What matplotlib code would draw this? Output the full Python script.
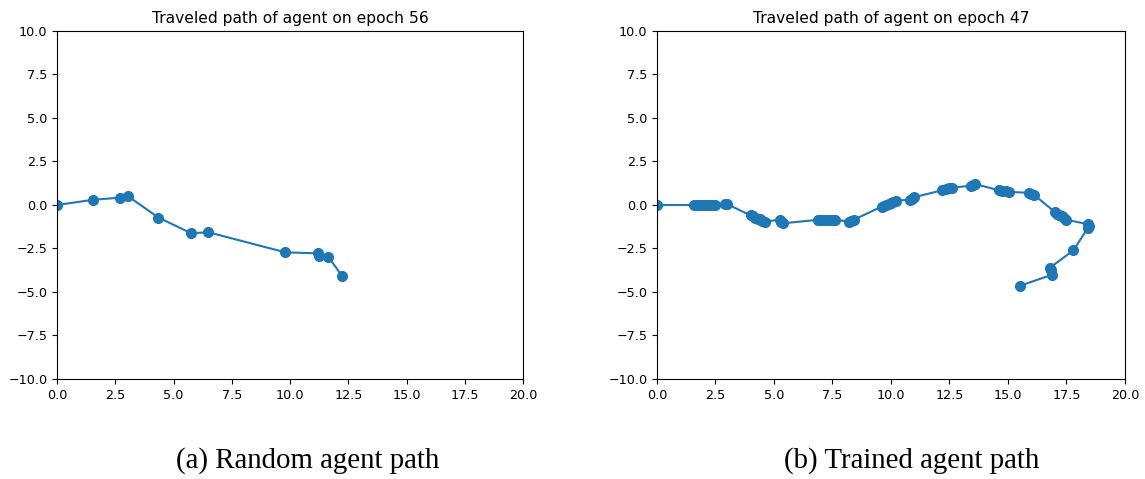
import matplotlib
matplotlib.use('Agg')
import matplotlib.pyplot as plt

# random agent, epoch 56
randomX = [0.0, 1.55, 2.7, 3.05, 4.35, 5.75, 6.5, 9.8, 11.2, 11.25, 11.65, 12.25]
randomY = [0.0, 0.3, 0.42, 0.5, -0.72, -1.62, -1.57, -2.72, -2.78, -2.95, -3.0, -4.1]

# trained agent, epoch 47
trainedX = [0.0, 1.6, 1.7, 1.8, 1.9, 2.0, 2.1, 2.2, 2.3, 2.4, 2.5, 2.9, 3.0,
            4.0, 4.1, 4.2, 4.3, 4.4, 4.5, 4.6, 5.25, 5.3, 5.4,
            6.9, 7.0, 7.1, 7.2, 7.3, 7.4, 7.5, 7.6, 8.2, 8.3, 8.4,
            9.6, 9.7, 9.8, 9.9, 10.0, 10.1, 10.2, 10.8, 10.9, 11.0,
            12.2, 12.35, 12.5, 12.6, 13.4, 13.5, 13.6,
            14.6, 14.75, 14.9, 15.05, 15.9, 16.0, 16.1,
            17.0, 17.1, 17.2, 17.3, 17.4, 17.5, 18.4, 18.45, 18.4,
            17.8, 16.8, 16.85, 16.9, 15.5]
trainedY = [0.0, 0.0, 0.0, 0.0, 0.0, 0.0, 0.0, 0.0, 0.0, 0.0, 0.0, 0.05, 0.05,
            -0.6, -0.65, -0.72, -0.78, -0.83, -0.9, -0.95, -0.85, -0.95, -1.05,
            -0.85, -0.85, -0.85, -0.85, -0.85, -0.85, -0.85, -0.85, -0.95, -0.9, -0.85,
            -0.1, -0.05, 0.0, 0.05, 0.1, 0.2, 0.25, 0.3, 0.35, 0.45,
            0.85, 0.9, 0.95, 1.0, 1.1, 1.15, 1.2,
            0.85, 0.8, 0.8, 0.75, 0.7, 0.65, 0.6,
            -0.4, -0.5, -0.6, -0.65, -0.75, -0.85, -1.1, -1.2, -1.35,
            -2.6, -3.6, -3.75, -4.0, -4.65]

epochs = [56, 47]
captions = ['(a) Random agent path', '(b) Trained agent path']

fig = plt.figure(figsize=(11.45, 4.79), dpi=100)
ax1 = fig.add_axes([0.0498, 0.2088, 0.407, 0.7265])
ax2 = fig.add_axes([0.5738, 0.2088, 0.4087, 0.7265])

for ax, xs, ys, ep in [(ax1, randomX, randomY, epochs[0]), (ax2, trainedX, trainedY, epochs[1])]:
    ax.plot(xs, ys, '-o', color='#1f77b4', markersize=7, linewidth=1.5)
    ax.set_xlim(0, 20)
    ax.set_ylim(-10, 10)
    ax.set_xticks([0, 2.5, 5, 7.5, 10, 12.5, 15, 17.5, 20])
    ax.set_yticks([-10, -7.5, -5, -2.5, 0, 2.5, 5, 7.5, 10])
    ax.tick_params(labelsize=9.2, length=3.5)
    ax.set_title('Traveled path of agent on epoch %d' % ep, fontsize=11.2, pad=6)

fig.text(308/1145, 1 - 461/479, captions[0], ha='center', va='center',
         family='Liberation Serif', fontsize=20.8)
fig.text(912/1145, 1 - 461/479, captions[1], ha='center', va='center',
         family='Liberation Serif', fontsize=20.8)

fig.savefig('out.png', dpi=100)
